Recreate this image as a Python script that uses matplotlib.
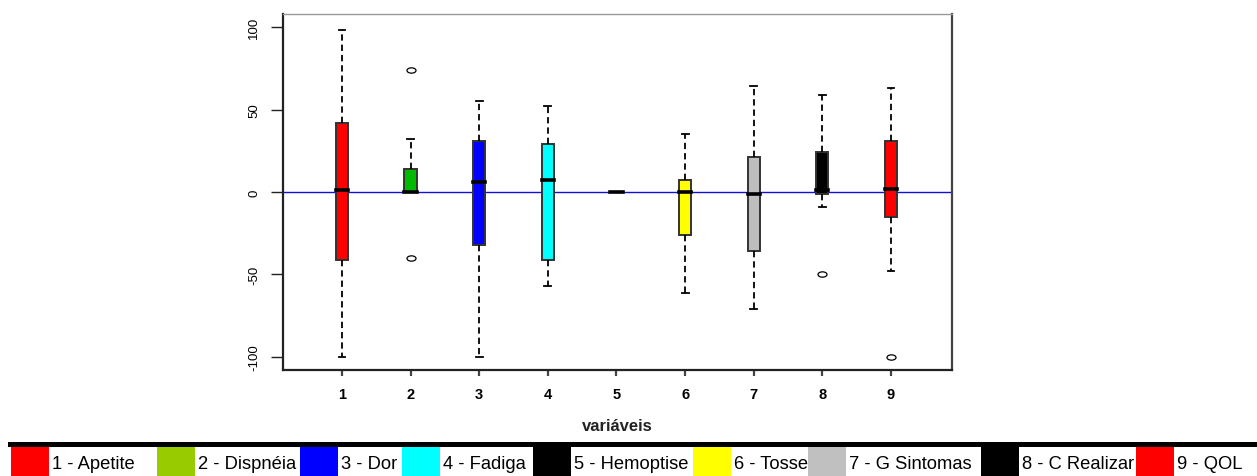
import matplotlib
matplotlib.use("Agg")
import matplotlib.pyplot as plt
from matplotlib.patches import Rectangle
from matplotlib.path import Path
from matplotlib.markers import MarkerStyle
from matplotlib.transforms import Affine2D

# ---------------- data ----------------
variables = [1, 2, 3, 4, 5, 6, 7, 8, 9]
medians   = [1.5, 0, 6, 7.5, 0, 0, -1, 1, 2]
q1        = [-41, 0, -32, -41, 0, -26, -36, -1, -15]
q3        = [42, 14, 31, 29, 0, 7, 21, 24, 31]
whis_lo   = [-100, 0, -100, -57, 0, -61, -71, -9, -48]
whis_hi   = [98, 32, 55, 52, 0, 35, 64, 59, 63]
outliers  = [[], [74, -40], [], [], [], [], [], [-50], [-100]]
box_colors = ["#ff0000", "#00bb00", "#0000ff", "#00ffff", "#000000",
              "#ffff00", "#bebebe", "#000000", "#ff0000"]

legend_labels = ["1 - Apetite", "2 - Dispnéia", "3 - Dor", "4 - Fadiga",
                 "5 - Hemoptise", "6 - Tosse", "7 - G Sintomas",
                 "8 - C Realizar", "9 - QOL"]
legend_colors = ["#ff0000", "#99cc00", "#0000ff", "#00ffff", "#000000",
                 "#ffff00", "#c0c0c0", "#000000", "#ff0000"]
y_ticks = [-100, -50, 0, 50, 100]
x_label = "variáveis"

# ---------------- layout ----------------
W, H = 1257, 477
fig = plt.figure(figsize=(W / 100, H / 100), dpi=100)
fig.patch.set_facecolor("white")

def fx(px):
    return px / W

def fy(py):
    return 1 - py / H

ax_l, ax_r, ax_t, ax_b = 283, 952, 15, 371
ax = fig.add_axes([fx(ax_l), fy(ax_b), fx(ax_r - ax_l), (ax_b - ax_t) / H])

stats = []
for i in range(len(variables)):
    stats.append(dict(med=medians[i], q1=q1[i], q3=q3[i],
                      whislo=whis_lo[i], whishi=whis_hi[i],
                      fliers=outliers[i], label=str(variables[i])))

ellipse = Path.unit_circle().transformed(Affine2D().scale(1.7, 1.0))
flier_marker = MarkerStyle(ellipse)

bp = ax.bxp(stats, positions=variables, widths=0.18, capwidths=0.1,
            patch_artist=True, showfliers=True,
            boxprops=dict(edgecolor="#333333", linewidth=1.4),
            medianprops=dict(color="black", linewidth=2.6,
                             solid_capstyle="projecting"),
            whiskerprops=dict(color="black", linewidth=1.3,
                              linestyle=(0, (3.5, 2.2))),
            capprops=dict(color="black", linewidth=1.3),
            flierprops=dict(marker=flier_marker, markersize=6.5,
                            markerfacecolor="none", markeredgecolor="black",
                            markeredgewidth=0.9, linestyle="none"))
for patch, c in zip(bp["boxes"], box_colors):
    patch.set_facecolor(c)

ax.axhline(0, color="#1010e0", linewidth=1.0, zorder=1.5)

ax.set_xlim(0.14, 9.89)
ax.set_ylim(-107.9, 107.9)
ax.set_yticks(y_ticks)
ax.set_yticklabels([str(t) for t in y_ticks], rotation=90, va="center",
                   fontsize=9.5, family="Liberation Sans")
ax.set_xticks(variables)
ax.set_xticklabels([str(v) for v in variables], fontsize=10.5,
                   fontweight="bold", family="Liberation Sans")
ax.tick_params(axis="y", length=8.5, width=1.0, color="#222222", pad=8)
ax.tick_params(axis="x", length=4.5, width=1.6, color="#444444", pad=8)

ax.set_xlabel(x_label, fontsize=12, fontweight="bold",
              family="Liberation Sans", labelpad=12, color="#222222")

for side, sp in ax.spines.items():
    sp.set_color("#222222")
    sp.set_linewidth(1.6)
ax.spines["top"].set_color("#999999")
ax.spines["top"].set_linewidth(1.0)
ax.spines["right"].set_color("#444444")

# ---------------- legend strip ----------------
fig.add_artist(Rectangle((fx(8), fy(447.5)), fx(W - 8), 4.5 / H,
                         transform=fig.transFigure, facecolor="black",
                         edgecolor="none"))
swatch_left = [11, 157, 300, 402, 533, 693, 808, 981, 1136]
sw_w, sw_top, sw_bot = 38, 448, 477
for left, col, lab in zip(swatch_left, legend_colors, legend_labels):
    fig.add_artist(Rectangle((fx(left), fy(sw_bot)), fx(sw_w),
                             (sw_bot - sw_top) / H,
                             transform=fig.transFigure, facecolor=col,
                             edgecolor="none"))
    fig.text(fx(left + sw_w + 3), fy(469), lab, ha="left", va="baseline",
             fontsize=13.2, color="black", family="Liberation Sans")

fig.savefig("out.png", dpi=100, facecolor="white")
